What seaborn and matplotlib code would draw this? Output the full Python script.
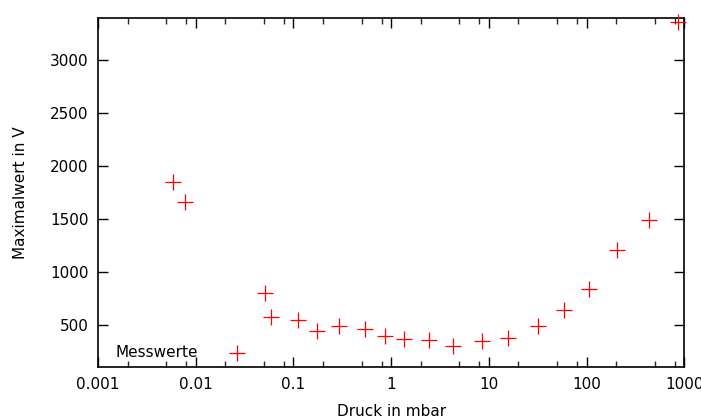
import matplotlib
matplotlib.use("Agg")
import matplotlib.pyplot as plt
import matplotlib.ticker as mticker
import seaborn as sns
import pandas as pd

# ==================== DATA ====================
druck_mbar = [0.0058, 0.0078, 0.051, 0.059, 0.111, 0.176, 0.295, 0.543, 0.87,
              1.34, 2.46, 4.34, 8.43, 15.8, 32, 59, 105, 207, 433, 862]
maximalwert_v = [1850, 1660, 802, 573, 547, 443, 490, 459, 390,
                 365, 358, 295, 346, 377, 490, 641, 842, 1207, 1490, 3360]

y_ticks = [500, 1000, 1500, 2000, 2500, 3000]

df = pd.DataFrame({"druck": druck_mbar, "wert": maximalwert_v})

# ==================== PLOT ====================
sns.set_style("ticks")
plt.rcParams["font.family"] = ["DejaVu Sans"]
plt.rcParams["text.color"] = "black"
plt.rcParams["axes.labelcolor"] = "black"

fig = plt.figure(figsize=(7.01, 4.20), dpi=100)
ax = fig.add_axes([0.140, 0.126, 0.836, 0.831])

sns.scatterplot(data=df, x="druck", y="wert", marker="+", color="red",
                s=130, linewidth=0.9, label="Messwerte", ax=ax, clip_on=False,
                zorder=5)

ax.set_xscale("log")
ax.set_xlim(0.001, 1000)
ax.set_ylim(100, 3400)
ax.set_yticks(y_ticks)
ax.xaxis.set_major_locator(mticker.LogLocator(base=10, numticks=10))
ax.xaxis.set_minor_locator(mticker.LogLocator(base=10, subs=[2, 5, 8], numticks=10))
ax.xaxis.set_minor_formatter(mticker.NullFormatter())
ax.xaxis.set_major_formatter(mticker.FuncFormatter(lambda v, p: "%g" % v))

ax.tick_params(axis="both", which="major", direction="in", length=7, width=1,
               top=True, right=True, labelsize=11, colors="black", pad=7)
ax.tick_params(axis="x", which="minor", direction="in", length=4, width=1,
               top=True, bottom=True)
for sp in ax.spines.values():
    sp.set_visible(True)
    sp.set_linewidth(1.2)
    sp.set_color("black")

ax.set_xlabel("Druck in mbar", fontsize=11, labelpad=9)
ax.set_ylabel("Maximalwert in V", fontsize=11, labelpad=16)

leg = ax.legend(loc="lower left", bbox_to_anchor=(0.012, -0.009), markerfirst=False,
                frameon=False, fontsize=11, handletextpad=1.5, borderaxespad=0.3)
for t in leg.get_texts():
    t.set_color("black")

plt.savefig("out.png", dpi=100)
plt.close()
